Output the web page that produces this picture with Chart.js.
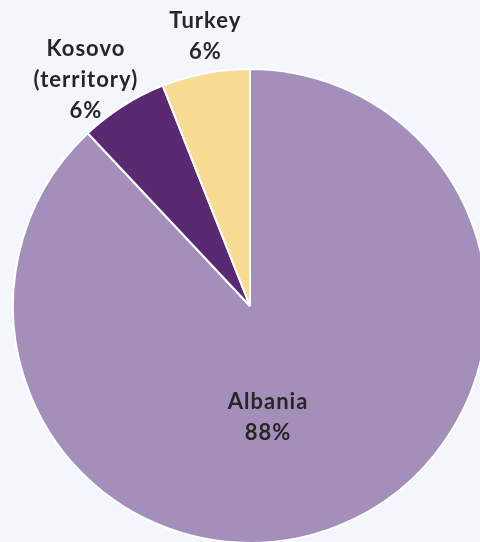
<!DOCTYPE html>
<html>
<head>
<meta charset="utf-8">
<script src="https://cdn.jsdelivr.net/npm/chart.js@4.4.1/dist/chart.umd.min.js"></script>
<style>
  html, body { margin: 0; padding: 0; background: #F3F6FB; }
  #wrap { width: 480px; height: 542px; position: relative; overflow: hidden; }
  #pie { position: absolute; left: 0; top: 0; }
</style>
</head>
<body>
<div id="wrap"><canvas id="pie" width="500" height="560"></canvas></div>
<script>
// shares by country
const categories = ["Albania", "Kosovo\n(territory)", "Turkey"];
const shares = [88, 6, 6];
const sliceColors = ["#A48FBB", "#592A71", "#F8DC94"];

// label spot per slice: radius as a fraction of the pie radius, angle shift in degrees
const labelSpots = [
  { r: 0.477, shift: 12.4 },
  { r: 1.178, shift: -3.6 },
  { r: 1.155, shift: 1.4 },
];

const sliceLabels = {
  id: "sliceLabels",
  afterDatasetsDraw(chart) {
    const ctx = chart.ctx;
    const arcs = chart.getDatasetMeta(0).data;
    ctx.save();
    ctx.font = "bold 22px Lato";
    ctx.letterSpacing = "1px";
    ctx.fillStyle = "#262626";
    ctx.textAlign = "center";
    ctx.textBaseline = "middle";
    arcs.forEach((arc, i) => {
      const spot = labelSpots[i];
      const mid = (arc.startAngle + arc.endAngle) / 2 + spot.shift * Math.PI / 180;
      const x = arc.x + Math.cos(mid) * arc.outerRadius * spot.r;
      const y = arc.y + Math.sin(mid) * arc.outerRadius * spot.r;
      const lines = categories[i].split("\n").concat([shares[i] + "%"]);
      const lh = 31;
      const top = y - (lines.length - 1) * lh / 2;
      lines.forEach((t, k) => ctx.fillText(t, x, top + k * lh));
    });
    ctx.restore();
  },
};

const ctx = document.getElementById("pie").getContext("2d");
new Chart(ctx, {
  type: "pie",
  data: {
    labels: categories,
    datasets: [
      {
        data: shares,
        backgroundColor: sliceColors,
        borderColor: "#FFFFFF",
        borderWidth: 2,
      },
    ],
  },
  options: {
    responsive: false,
    animation: false,
    devicePixelRatio: 1,
    plugins: {
      legend: { display: false },
      tooltip: { enabled: false },
    },
    layout: {
      padding: { left: 12, right: 12, top: 68, bottom: 16 },
    },
  },
  plugins: [sliceLabels],
});
</script>
</body>
</html>
